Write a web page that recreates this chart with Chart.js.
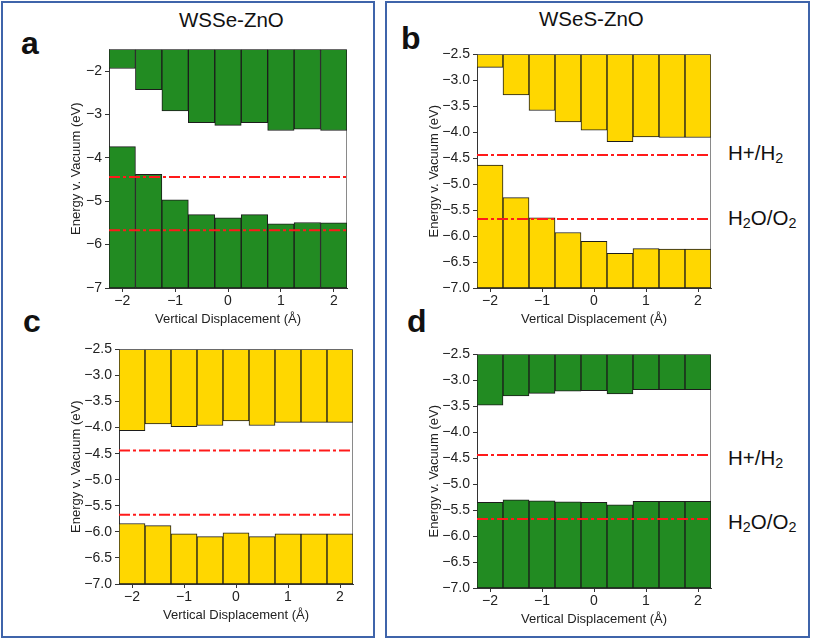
<!DOCTYPE html>
<html>
<head>
<meta charset="utf-8">
<script src="https://cdn.jsdelivr.net/npm/chart.js@4.4.1/dist/chart.umd.min.js"></script>
<style>
  html, body { margin: 0; padding: 0; background: #fff; }
  body { width: 813px; height: 641px; position: relative; overflow: hidden;
         font-family: "Liberation Sans", Arial, Helvetica, sans-serif; color: #111; }
  .box { position: absolute; border: 2px solid #3f64aa; box-sizing: border-box; }
  canvas { position: absolute; }
  .letter { position: absolute; font-weight: bold; font-size: 32px; line-height: 1; }
  .title { position: absolute; font-size: 20.5px; line-height: 1; white-space: nowrap; }
  .redox { position: absolute; font-size: 20.5px; line-height: 1; white-space: nowrap; }
  .redox sub { font-size: 70%; vertical-align: -0.22em; line-height: 0; }
</style>
</head>
<body>
<div class="box" style="left:1px;top:1px;width:374px;height:637px;"></div>
<div class="box" style="left:385px;top:1px;width:425px;height:637px;"></div>

<div class="letter" style="left:21px;top:27px;">a</div>
<div class="letter" style="left:401px;top:22px;">b</div>
<div class="letter" style="left:23px;top:305px;">c</div>
<div class="letter" style="left:407px;top:305px;">d</div>

<div class="title" id="titleA" style="left:179px;top:10px;">WSSe-ZnO</div>
<div class="title" id="titleB" style="left:539px;top:9px;">WSeS-ZnO</div>

<div class="redox" style="left:728px;top:143px;">H+/H<sub>2</sub></div>
<div class="redox" style="left:728px;top:208px;">H<sub>2</sub>O/O<sub>2</sub></div>
<div class="redox" style="left:728px;top:448px;">H+/H<sub>2</sub></div>
<div class="redox" style="left:728px;top:512px;">H<sub>2</sub>O/O<sub>2</sub></div>

<canvas id="ca" width="286" height="293" style="left:65px;top:38px;"></canvas>
<canvas id="cb" width="292" height="288" style="left:423px;top:43px;"></canvas>
<canvas id="cc" width="292" height="289" style="left:65px;top:338px;"></canvas>
<canvas id="cd" width="292" height="288" style="left:423px;top:343px;"></canvas>

<script>
// ---- data ----
const displacement = [-2, -1.5, -1, -0.5, 0, 0.5, 1, 1.5, 2];

// panel a: WSSe-ZnO (green)
const aCBM = [-1.94, -2.43, -2.92, -3.19, -3.25, -3.19, -3.37, -3.34, -3.37];
const aVBM = [-3.74, -4.38, -4.97, -5.31, -5.38, -5.31, -5.52, -5.49, -5.50];
// panel b: WSeS-ZnO (yellow)
const bCBM = [-2.75, -3.28, -3.58, -3.80, -3.96, -4.18, -4.09, -4.10, -4.10];
const bVBM = [-4.63, -5.26, -5.65, -5.93, -6.10, -6.33, -6.24, -6.25, -6.25];
// panel c (yellow)
const cCBM = [-4.06, -3.93, -3.98, -3.96, -3.87, -3.96, -3.90, -3.90, -3.90];
const cVBM = [-5.84, -5.88, -6.04, -6.09, -6.02, -6.09, -6.04, -6.04, -6.04];
// panel d (green)
const dCBM = [-3.48, -3.30, -3.25, -3.21, -3.20, -3.26, -3.18, -3.18, -3.18];
const dVBM = [-5.35, -5.30, -5.32, -5.34, -5.35, -5.40, -5.33, -5.33, -5.33];

// redox potentials
const redoxLevels = [-4.44, -5.67];

// y-axis ranges and tick steps
const yMinAll = -7;
const yMaxA = -1.5, yStepA = 1;
const yMaxBCD = -2.5, yStepBCD = 0.5;

// ---- styles ----
const GREEN = '#228b22';
const YELLOW = '#ffd700';
const EDGE = '#1c1c1c';
const RED = '#ff1a1a';
const FONT = '"Liberation Sans", Arial, Helvetica, sans-serif';

const xLabels = displacement.map(v => String(v));
const minus = s => s.replace('-', '\u2212');

const framePlugin = {
  id: 'frame',
  beforeDatasetsDraw(chart) {
    const a = chart.chartArea, ctx = chart.ctx;
    ctx.save();
    ctx.strokeStyle = '#8a8a8a';
    ctx.lineWidth = 1;
    ctx.beginPath();
    ctx.moveTo(a.left, a.top + 0.5);
    ctx.lineTo(a.right - 0.5, a.top + 0.5);
    ctx.lineTo(a.right - 0.5, a.bottom);
    ctx.stroke();
    ctx.restore();
  }
};

function makePanel(id, cbm, vbm, color, yMax, yStep, decimals, yAxisWidth, xAxisHeight) {
  const xLo = displacement[0] - 0.25, xHi = displacement[displacement.length - 1] + 0.25;
  const barCommon = {
    type: 'bar', xAxisID: 'x', yAxisID: 'y',
    backgroundColor: color, borderColor: EDGE, borderWidth: 1, borderSkipped: false,
    barPercentage: 1, categoryPercentage: 1, grouped: false, order: 2
  };
  const datasets = [
    Object.assign({ data: cbm.map(v => [v, yMax]) }, barCommon),
    Object.assign({ data: vbm.map(v => [yMinAll, v]) }, barCommon)
  ];
  redoxLevels.forEach(lv => {
    datasets.push({
      type: 'line', xAxisID: 'xl', yAxisID: 'y', order: 1,
      data: [{ x: xLo, y: lv }, { x: xHi, y: lv }],
      borderColor: RED, borderWidth: 2, borderDash: [11, 3, 3, 3],
      pointRadius: 0, fill: false, tension: 0
    });
  });

  new Chart(document.getElementById(id), {
    data: { labels: xLabels, datasets },
    options: {
      responsive: false, animation: false, maintainAspectRatio: false,
      layout: { padding: { top: 6, right: 4, left: 0, bottom: 0 } },
      plugins: { legend: { display: false }, tooltip: { enabled: false } },
      scales: {
        x: {
          type: 'category', offset: true,
          grid: {
            offset: false, drawOnChartArea: false, drawTicks: true, tickLength: 4,
            tickColor: c => Number.isInteger(displacement[c.index]) ? '#333' : 'rgba(0,0,0,0)'
          },
          border: { display: true, color: '#333', width: 1 },
          ticks: {
            autoSkip: false, maxRotation: 0, padding: 1, color: '#222',
            font: { family: FONT, size: 14 },
            callback: (v, i) => Number.isInteger(displacement[i]) ? minus(xLabels[i]) : ''
          },
          title: { display: true, text: 'Vertical Displacement (Å)', color: '#222',
                   font: { family: FONT, size: 13 }, padding: { top: 4, bottom: 4 } },
          afterFit: s => { s.height = xAxisHeight; }
        },
        xl: { type: 'linear', display: false, min: xLo, max: xHi },
        y: {
          type: 'linear', min: yMinAll, max: yMax,
          grid: { drawOnChartArea: false, drawTicks: true, tickLength: 4, tickColor: '#333' },
          border: { display: true, color: '#333', width: 1 },
          ticks: {
            stepSize: yStep, includeBounds: false, padding: 3, color: '#222',
            font: { family: FONT, size: 14 },
            callback: v => minus(Number(v).toFixed(decimals))
          },
          title: { display: true, text: 'Energy v. Vacuum (eV)', color: '#222',
                   font: { family: FONT, size: 13 }, padding: { top: 4, bottom: 4 } },
          afterFit: s => { s.width = yAxisWidth; }
        }
      }
    },
    plugins: [framePlugin]
  });
}

makePanel('ca', aCBM, aVBM, GREEN, yMaxA, yStepA, 0, 44, 43);
makePanel('cb', bCBM, bVBM, YELLOW, yMaxBCD, yStepBCD, 1, 54, 43);
makePanel('cc', cCBM, cVBM, YELLOW, yMaxBCD, yStepBCD, 1, 54, 43);
makePanel('cd', dCBM, dVBM, GREEN, yMaxBCD, yStepBCD, 1, 54, 43);
</script>
</body>
</html>
